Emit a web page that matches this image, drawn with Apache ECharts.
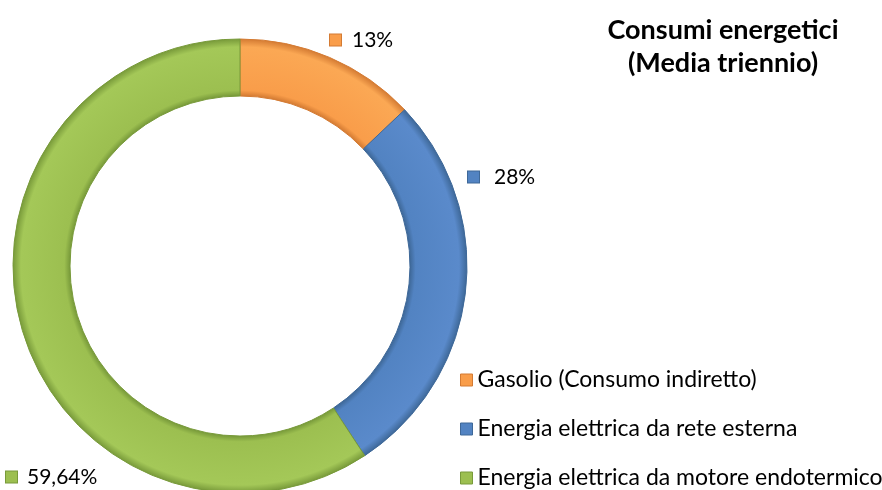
<!DOCTYPE html>
<html>
<head>
<meta charset="utf-8">
<title>Consumi energetici</title>
<script src="https://cdn.jsdelivr.net/npm/echarts@6/dist/echarts.min.js"></script>
<style>
  html, body { margin: 0; padding: 0; background: #fff; }
  #main { width: 882px; height: 490px; }
</style>
</head>
<body>
<div id="main"></div>
<script>
// dati del grafico
var categorie = ['Gasolio (Consumo indiretto)', 'Energia elettrica da rete esterna', 'Energia elettrica da motore endotermico'];
var valori = [13, 28, 59.64];

// colori: [chiaro, medio, scuro]
var colori = [
  ['#FBA854', '#F99D4A', '#D47B33'],
  ['#5A8ACB', '#5283C2', '#3E6898'],
  ['#A4C858', '#9CBF50', '#789A3A']
];
// posizione delle etichette (x, y, spazio tra quadratino e testo)
var posEtichette = [[330, 40, 11], [468, 177, 15], [6, 477, 10]];

var cx = 240, cy = 266, rIn = 170, rOut = 227;

function anello(c) {
  // finto effetto smusso: bordi interno/esterno più scuri
  var k = rIn / rOut;
  return new echarts.graphic.RadialGradient(cx, cy, rOut, [
    { offset: 0, color: c[2] },
    { offset: k, color: c[2] },
    { offset: k + 0.025, color: c[1] },
    { offset: 0.965, color: c[0] },
    { offset: 1, color: c[2] }
  ], true);
}

function fmt(v) {
  return String(v).replace('.', ',') + '%';
}

var dati = categorie.map(function (nome, i) {
  return {
    name: nome,
    value: valori[i],
    itemStyle: { color: anello(colori[i]), borderColor: colori[i][2], borderWidth: 1 },
    label: {
      formatter: '{m|}{v|' + fmt(valori[i]) + '}',
      rich: {
        m: { width: 11, height: 11, backgroundColor: colori[i][1], borderColor: colori[i][2], borderWidth: 1 },
        v: { fontSize: 21, color: '#000', fontFamily: 'Lato', padding: [0, 0, 0, posEtichette[i][2]] }
      }
    }
  };
});

var myChart = echarts.init(document.getElementById('main'));
myChart.setOption({
  animation: false,
  title: {
    text: 'Consumi energetici\n(Media triennio)',
    left: 718,
    top: 9,
    textAlign: 'center',
    textStyle: { fontFamily: 'Lato', fontWeight: 'bold', fontSize: 27, lineHeight: 33, color: '#000' }
  },
  legend: {
    orient: 'vertical',
    left: 460,
    top: 368,
    height: 200,
    padding: 0,
    icon: 'rect',
    itemWidth: 12,
    itemHeight: 12,
    itemGap: 25,
    data: categorie.map(function (nome, i) {
      return { name: nome, itemStyle: { color: colori[i][1], borderColor: colori[i][2], borderWidth: 1 } };
    }),
    textStyle: { fontFamily: 'Lato', fontSize: 23, lineHeight: 24, color: '#000' }
  },
  series: [{
    type: 'pie',
    center: [cx, cy],
    radius: [rIn, rOut],
    startAngle: 90,
    avoidLabelOverlap: false,
    label: { show: true, position: 'outside' },
    labelLine: { show: false },
    labelLayout: function (p) {
      var pos = posEtichette[p.dataIndex];
      return { x: pos[0], y: pos[1], align: 'left', verticalAlign: 'middle' };
    },
    emphasis: { disabled: true },
    data: dati
  }]
});
</script>
</body>
</html>
